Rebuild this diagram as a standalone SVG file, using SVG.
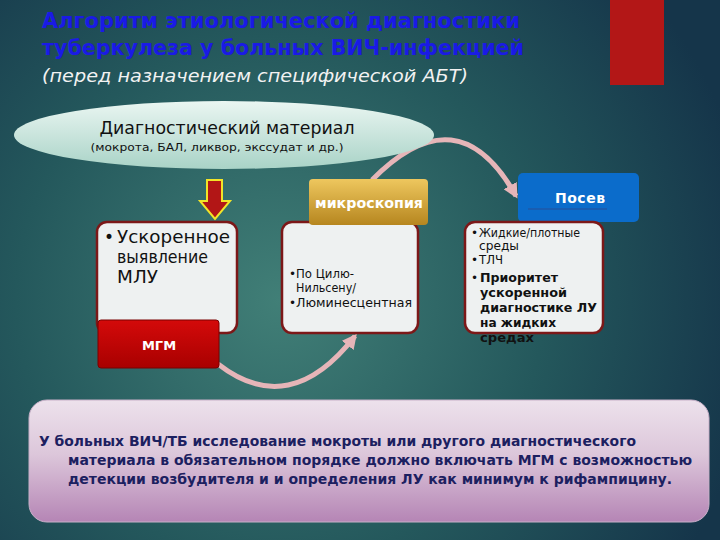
<svg xmlns="http://www.w3.org/2000/svg" width="720" height="540" viewBox="0 0 720 540">
<defs>
<radialGradient id="bg" cx="280" cy="300" r="480" gradientUnits="userSpaceOnUse">
<stop offset="0" stop-color="#417f77"/>
<stop offset="0.55" stop-color="#24585c"/>
<stop offset="1" stop-color="#15354a"/>
</radialGradient>
<linearGradient id="ell" x1="0" y1="0" x2="0" y2="1">
<stop offset="0" stop-color="#eaf6f2"/>
<stop offset="1" stop-color="#a9d3c7"/>
</linearGradient>
<linearGradient id="gold" x1="0" y1="0" x2="0" y2="1">
<stop offset="0" stop-color="#eec75e"/>
<stop offset="1" stop-color="#b6861f"/>
</linearGradient>
<linearGradient id="red" x1="0" y1="0" x2="0" y2="1">
<stop offset="0" stop-color="#d40a0a"/>
<stop offset="1" stop-color="#a80000"/>
</linearGradient>
<linearGradient id="lav" x1="0" y1="0" x2="0" y2="1">
<stop offset="0" stop-color="#ede2ec"/>
<stop offset="0.45" stop-color="#dcc6da"/>
<stop offset="1" stop-color="#b585b5"/>
</linearGradient>
<marker id="ah" viewBox="0 0 10 10" refX="8" refY="5" markerWidth="3" markerHeight="3" orient="auto" markerUnits="strokeWidth">
<path d="M0,0 L10,5 L0,10 z" fill="#e6b5b8"/>
</marker>
</defs>
<style>
text{font-family:"DejaVu Sans","Noto Sans",sans-serif}
.box{fill:#eef1f1;stroke:#7c1818;stroke-width:2.5}
.conn{fill:none;stroke:#e6b5b8;stroke-width:5;marker-end:url(#ah)}
.t{fill:#111}
.w{fill:#fff;font-weight:bold}
.b{fill:#1c2060;font-weight:bold;font-size:13.5px}
</style>
<rect width="720" height="540" fill="url(#bg)"/>
<rect x="610" y="0" width="54" height="85" fill="#b31717"/>
<g id="title">
<text x="42" y="28" font-size="22" font-weight="bold" fill="#1a1ae6" textLength="478" lengthAdjust="spacingAndGlyphs">Алгоритм этиологической диагностики</text>
<text x="42" y="55" font-size="22" font-weight="bold" fill="#1a1ae6" textLength="482" lengthAdjust="spacingAndGlyphs">туберкулеза у больных ВИЧ-инфекцией</text>
<text x="42" y="82" font-size="18" font-style="italic" fill="#f2f2f2" textLength="426" lengthAdjust="spacingAndGlyphs">(перед назначением специфической АБТ)</text>
</g>
<g id="connectors">
<path class="conn" d="M372,180 Q458,92 516,196"/>
<path class="conn" d="M218,364 Q290,420 355,336"/>
</g>
<g id="material">
<ellipse cx="224" cy="135" rx="210" ry="34" fill="url(#ell)"/>
<text x="227" y="134" font-size="17" text-anchor="middle" class="t" textLength="255" lengthAdjust="spacingAndGlyphs">Диагностический материал</text>
<text x="217" y="151" font-size="11" text-anchor="middle" class="t" textLength="253" lengthAdjust="spacingAndGlyphs">(мокрота, БАЛ, ликвор, экссудат и др.)</text>
</g>
<g id="down-arrow">
<path d="M207,180 H222 V201 H230 L215,219 L200,201 H207 Z" fill="#b21616" stroke="#f2e428" stroke-width="2" stroke-linejoin="miter"/>
</g>
<g id="mlu">
<rect class="box" x="97" y="222" width="140" height="111" rx="10"/>
<text x="104" y="243" font-size="17" class="t">•</text>
<text x="117" y="243" font-size="17" class="t" textLength="113" lengthAdjust="spacingAndGlyphs">Ускоренное</text>
<text x="117" y="263" font-size="17" class="t" textLength="91" lengthAdjust="spacingAndGlyphs">выявление</text>
<text x="117" y="283" font-size="17" class="t" textLength="41" lengthAdjust="spacingAndGlyphs">МЛУ</text>
</g>
<g id="mgm">
<rect x="98" y="320" width="121" height="48" rx="3" fill="url(#red)" stroke="#7a0000" stroke-width="1"/>
<text x="159" y="350" font-size="13" text-anchor="middle" class="w" fill="#fff4ea">МГМ</text>
</g>
<g id="microscopy">
<rect class="box" x="282" y="222" width="136" height="111" rx="10"/>
<rect x="309" y="179" width="119" height="46" rx="4" fill="url(#gold)"/>
<text x="369" y="208" font-size="14" text-anchor="middle" class="w" fill="#fff8e6" textLength="108" lengthAdjust="spacingAndGlyphs">микроскопия</text>
<text x="289" y="278" font-size="12" class="t">•</text>
<text x="296" y="278" font-size="12" class="t" textLength="58" lengthAdjust="spacingAndGlyphs">По Цилю-</text>
<text x="296" y="292" font-size="12" class="t" textLength="60" lengthAdjust="spacingAndGlyphs">Нильсену/</text>
<text x="289" y="307" font-size="12" class="t">•</text>
<text x="296" y="307" font-size="12" class="t" textLength="116" lengthAdjust="spacingAndGlyphs">Люминесцентная</text>
</g>
<g id="culture">
<rect x="518" y="173" width="121" height="49" rx="5" fill="#0b6ccb"/>
<line x1="528" y1="209" x2="607" y2="209" stroke="#1f58a8" stroke-width="1.5"/>
<text x="580" y="203" font-size="14" text-anchor="middle" class="w" fill="#f0f4ff" textLength="50" lengthAdjust="spacing">Посев</text>
<rect class="box" x="465" y="222" width="138" height="111" rx="10"/>
<text x="471" y="237" font-size="12" class="t">•</text>
<text x="479" y="237" font-size="12" class="t" textLength="101" lengthAdjust="spacingAndGlyphs">Жидкие/плотные</text>
<text x="479" y="250" font-size="12" class="t" textLength="40" lengthAdjust="spacingAndGlyphs">среды</text>
<text x="471" y="264" font-size="12" class="t">•</text>
<text x="479" y="264" font-size="12" class="t" textLength="24" lengthAdjust="spacingAndGlyphs">ТЛЧ</text>
<text x="471" y="282" font-size="12" class="t">•</text>
<text x="480" y="282" font-size="13" font-weight="bold" class="t" textLength="78" lengthAdjust="spacingAndGlyphs">Приоритет</text>
<text x="480" y="297" font-size="13" font-weight="bold" class="t" textLength="87" lengthAdjust="spacingAndGlyphs">ускоренной</text>
<text x="480" y="312" font-size="13" font-weight="bold" class="t" textLength="117" lengthAdjust="spacingAndGlyphs">диагностике  ЛУ</text>
<text x="480" y="327" font-size="13" font-weight="bold" class="t" textLength="76" lengthAdjust="spacingAndGlyphs">на жидких</text>
<text x="480" y="342" font-size="13" font-weight="bold" class="t" textLength="54" lengthAdjust="spacingAndGlyphs">средах</text>
</g>
<g id="note">
<rect x="29" y="400" width="680" height="122" rx="18" fill="url(#lav)" stroke="#c8b0c8" stroke-width="1"/>
<text x="39" y="446" class="b" textLength="597" lengthAdjust="spacingAndGlyphs">У больных ВИЧ/ТБ исследование мокроты или другого диагностического</text>
<text x="68" y="465" class="b" textLength="624" lengthAdjust="spacingAndGlyphs">материала в обязательном порядке должно включать МГМ с возможностью</text>
<text x="68" y="484" class="b" textLength="604" lengthAdjust="spacingAndGlyphs">детекции возбудителя и и определения ЛУ как минимум к рифампицину.</text>
</g>
</svg>
